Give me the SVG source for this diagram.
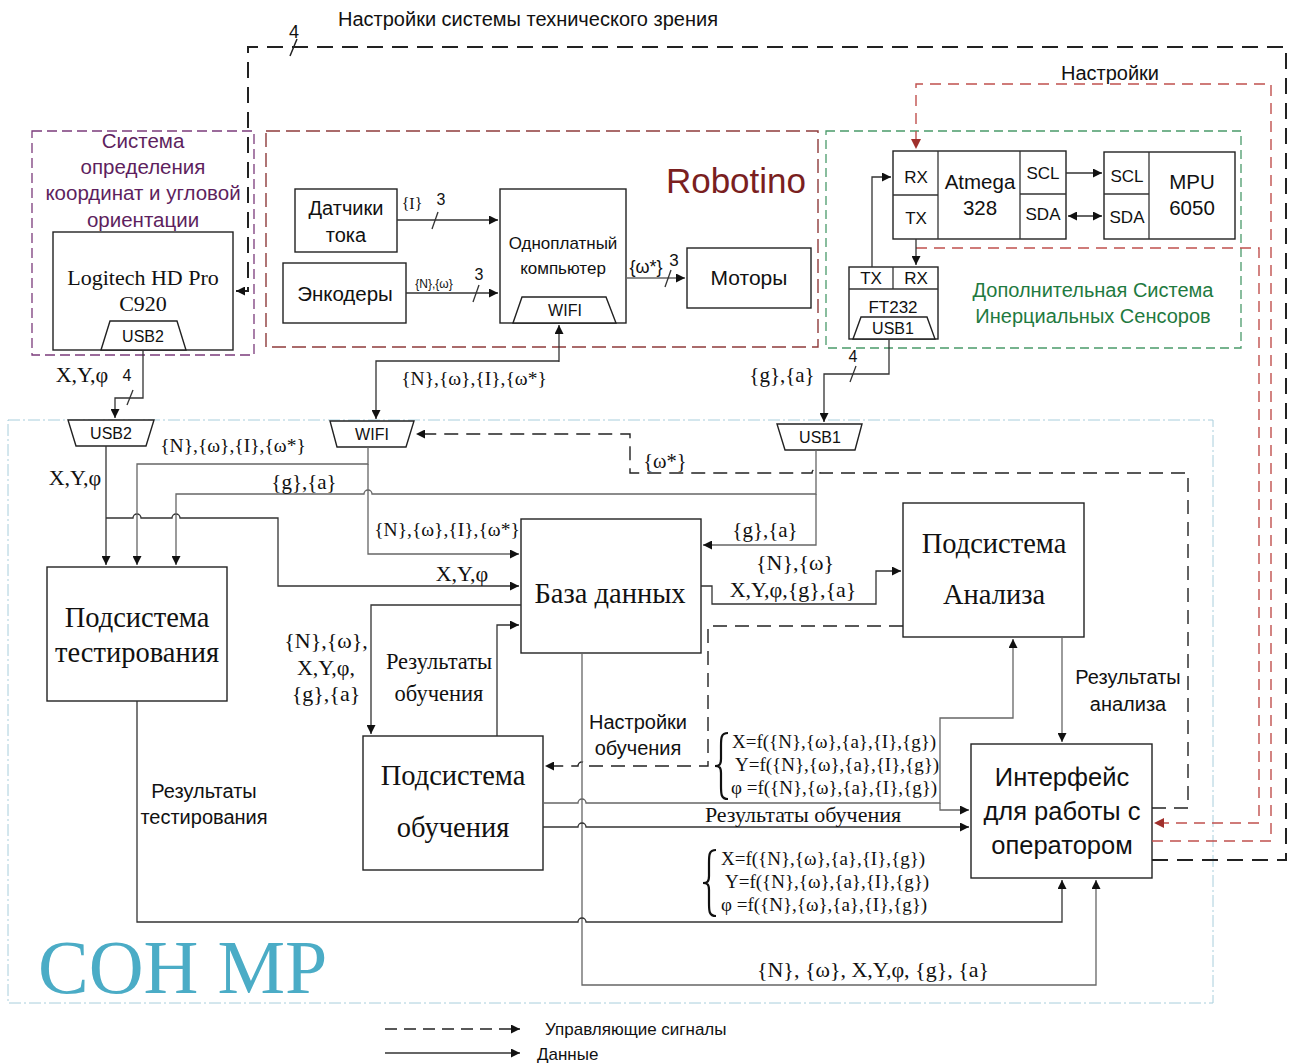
<svg xmlns="http://www.w3.org/2000/svg" width="1296" height="1063" viewBox="0 0 1296 1063">
<style>
.s{font-family:"Liberation Sans",Arial,sans-serif;fill:#111}
.r{font-family:"Liberation Serif","Times New Roman",serif;fill:#111}
.c{text-anchor:middle}
.box{fill:#fff;stroke:#222;stroke-width:1.4}
.ln{fill:none;stroke:#333;stroke-width:1.3}
.lg{fill:none;stroke:#666;stroke-width:1.3}
.dk{fill:none;stroke:#222;stroke-width:1.4;stroke-dasharray:14 8}
.dkb{fill:none;stroke:#222;stroke-width:2;stroke-dasharray:16 9}
.dr{fill:none;stroke:#C0504D;stroke-width:1.4;stroke-dasharray:11 7}
.br{fill:none;stroke:#111;stroke-width:2.2}
</style>
<defs>
<marker id="ah" viewBox="0 0 10 10" refX="10" refY="5" markerWidth="10" markerHeight="9" markerUnits="userSpaceOnUse" orient="auto"><path d="M0,0 L10,5 L0,10 z" fill="#111"/></marker>
<marker id="ah2" viewBox="0 0 10 10" refX="10" refY="5" markerWidth="10" markerHeight="9" markerUnits="userSpaceOnUse" orient="auto-start-reverse"><path d="M0,0 L10,5 L0,10 z" fill="#111"/></marker>
<marker id="ahr" viewBox="0 0 10 10" refX="10" refY="5" markerWidth="11" markerHeight="10" markerUnits="userSpaceOnUse" orient="auto"><path d="M0,0 L10,5 L0,10 z" fill="#A0302C"/></marker>
</defs>

<g id="containers">
<rect id="vision-system" x="32" y="131" width="222" height="224" fill="none" stroke="#7B3B7B" stroke-width="1.3" stroke-dasharray="10 5"/>
<text class="s c" style="fill:#5E1F5E" font-size="20.5"><tspan x="143" y="148">Система</tspan><tspan x="143" y="174">определения</tspan><tspan x="143" y="200">координат и угловой</tspan><tspan x="143" y="227">ориентации</tspan></text>
<rect id="robotino" x="266" y="131" width="552" height="216" fill="none" stroke="#8E3B3B" stroke-width="1.4" stroke-dasharray="14 6"/>
<text class="s" x="806" y="193" text-anchor="end" font-size="35" style="fill:#7A1F1F">Robotino</text>
<rect id="inertial-system" x="826" y="131" width="415" height="217" fill="none" stroke="#4A9A6A" stroke-width="1.3" stroke-dasharray="9 5"/>
<text class="s c" style="fill:#1F7A3F" font-size="20"><tspan x="1093" y="297">Дополнительная Система</tspan><tspan x="1093" y="323">Инерциальных Сенсоров</tspan></text>
<rect id="son-mr" x="8" y="420" width="1205" height="583" fill="none" stroke="#A8CEDC" stroke-width="1" stroke-dasharray="12 3 2 3"/>
<text class="r" x="38" y="993" font-size="76" style="fill:#4BACC6">СОН МР</text>
</g>

<g id="node-logitech">
<rect class="box" x="53" y="232" width="180" height="118"/>
<text class="r c" font-size="22"><tspan x="143" y="285">Logitech HD Pro</tspan><tspan x="143" y="311">C920</tspan></text>
<polygon class="box" points="101,350 110,321 177,321 186,350"/>
<text class="s c" x="143" y="342" font-size="16">USB2</text>
</g>

<g id="node-current-sensors">
<rect class="box" x="295" y="189" width="102" height="63"/>
<text class="s c" font-size="20"><tspan x="346" y="215">Датчики</tspan><tspan x="346" y="242">тока</tspan></text>
</g>
<g id="node-encoders">
<rect class="box" x="283" y="263" width="123" height="60"/>
<text class="s c" x="345" y="301" font-size="20.5">Энкодеры</text>
</g>
<g id="node-sbc">
<rect class="box" x="500" y="189" width="126" height="134"/>
<text class="s c" font-size="17"><tspan x="563" y="249">Одноплатный</tspan><tspan x="563" y="274">компьютер</tspan></text>
<polygon class="box" points="513,323 522,297 606,297 616,323"/>
<text class="s c" x="565" y="316" font-size="16">WIFI</text>
</g>
<g id="node-motors">
<rect class="box" x="687" y="248" width="124" height="60"/>
<text class="s c" x="749" y="285" font-size="21">Моторы</text>
</g>

<g id="node-atmega">
<rect class="box" x="893" y="151" width="173" height="88"/>
<line class="ln" x1="938" y1="151" x2="938" y2="239"/>
<line class="ln" x1="1020" y1="151" x2="1020" y2="239"/>
<line class="ln" x1="893" y1="195" x2="938" y2="195"/>
<line class="ln" x1="1020" y1="194" x2="1066" y2="194"/>
<text class="s c" font-size="17"><tspan x="916" y="183">RX</tspan><tspan x="916" y="224">TX</tspan><tspan x="1043" y="179">SCL</tspan><tspan x="1043" y="220">SDA</tspan></text>
<text class="s c" font-size="20.5"><tspan x="980" y="189">Atmega</tspan><tspan x="980" y="215">328</tspan></text>
</g>
<g id="node-mpu">
<rect class="box" x="1104" y="152" width="131" height="87"/>
<line class="ln" x1="1149" y1="152" x2="1149" y2="239"/>
<line class="ln" x1="1104" y1="194" x2="1149" y2="194"/>
<text class="s c" font-size="17"><tspan x="1127" y="182">SCL</tspan><tspan x="1127" y="223">SDA</tspan></text>
<text class="s c" font-size="20.5"><tspan x="1192" y="189">MPU</tspan><tspan x="1192" y="215">6050</tspan></text>
</g>
<g id="node-ft232">
<rect class="box" x="849" y="267" width="89" height="72"/>
<line class="ln" x1="849" y1="289" x2="938" y2="289"/>
<line class="ln" x1="893" y1="267" x2="893" y2="289"/>
<text class="s c" font-size="17"><tspan x="871" y="284">TX</tspan><tspan x="916" y="284">RX</tspan></text>
<text class="s c" x="893" y="313" font-size="17">FT232</text>
<polygon class="box" points="853,339 861,317 927,317 935,339"/>
<text class="s c" x="893" y="334" font-size="16">USB1</text>
</g>

<g id="node-usb2">
<polygon class="box" points="68,420 154,420 146,446 76,446"/>
<text class="s c" x="111" y="439" font-size="16">USB2</text>
</g>
<g id="node-wifi">
<polygon class="box" points="330,421 414,421 406,447 337,447"/>
<text class="s c" x="372" y="440" font-size="16">WIFI</text>
</g>
<g id="node-usb1">
<polygon class="box" points="777,424 862,424 855,450 785,450"/>
<text class="s c" x="820" y="443" font-size="16">USB1</text>
</g>

<g id="node-testing">
<rect class="box" x="47" y="567" width="180" height="134"/>
<text class="r c" font-size="28.5"><tspan x="137" y="627">Подсистема</tspan><tspan x="137" y="662">тестирования</tspan></text>
</g>
<g id="node-database">
<rect class="box" x="521" y="519" width="180" height="134"/>
<text class="r c" x="610" y="603" font-size="28.5">База данных</text>
</g>
<g id="node-analysis">
<rect class="box" x="903" y="503" width="181" height="134"/>
<text class="r c" font-size="28.5"><tspan x="994" y="553">Подсистема</tspan><tspan x="994" y="604">Анализа</tspan></text>
</g>
<g id="node-learning">
<rect class="box" x="363" y="736" width="180" height="134"/>
<text class="r c" font-size="28.5"><tspan x="453" y="785">Подсистема</tspan><tspan x="453" y="837">обучения</tspan></text>
</g>
<g id="node-interface">
<rect class="box" x="971" y="744" width="181" height="134"/>
<text class="s c" font-size="25.5"><tspan x="1062" y="786">Интерфейс</tspan><tspan x="1062" y="820">для работы с</tspan><tspan x="1062" y="854">оператором</tspan></text>
</g>

<g id="connectors">
<path class="dkb" d="M1152,860 H1286 V47 H248 V291 H236" marker-end="url(#ah)"/>
<line x1="290" y1="56" x2="297" y2="39" stroke="#222" stroke-width="1.5"/>
<path class="dr" d="M1152,841 H1271 V84 H916 V149" marker-end="url(#ahr)"/>
<path class="dr" d="M916,248 H1259 V823 H1154" marker-end="url(#ahr)"/>
<path class="ln" d="M397,220 H498" marker-end="url(#ah)"/>
<line class="ln" x1="432" y1="229" x2="438" y2="212"/>
<path class="ln" d="M406,293 H498" marker-end="url(#ah)"/>
<line class="ln" x1="473" y1="302" x2="479" y2="285"/>
<path class="lg" d="M626,278 H685" marker-end="url(#ah)"/>
<line class="ln" x1="665" y1="287" x2="671" y2="270"/>
<path class="ln" d="M1066,173 H1102" marker-end="url(#ah)"/>
<path class="ln" d="M1068,216 H1102" marker-start="url(#ah2)" marker-end="url(#ah2)"/>
<path class="ln" d="M872,267 V177 H891" marker-end="url(#ah)"/>
<path class="ln" d="M916,239 V265" marker-end="url(#ah)"/>
<path class="ln" d="M143,350 V398 H115 V418" marker-end="url(#ah)"/>
<line class="ln" x1="127" y1="405" x2="133" y2="390"/>
<path class="ln" d="M559,362 V325" marker-end="url(#ah)"/>
<path class="ln" d="M559,361 H376 V419" marker-end="url(#ah)"/>
<path class="ln" d="M889,339 V374 H824 V422" marker-end="url(#ah)"/>
<line class="ln" x1="850" y1="382" x2="856" y2="366"/>
<path class="dk" d="M1152,808 H1188 V473 H820 A4,4 0 0 0 812,473 H630 V434 H416" marker-end="url(#ah)"/>
<path class="ln" d="M106,446 V565" marker-end="url(#ah)"/>
<path class="ln" d="M106,518 H133 A4,4 0 0 1 141,518 H172 A4,4 0 0 1 180,518 H278 V586 H519" marker-end="url(#ah)"/>
<path class="lg" d="M368,447 V464 H137 V565" marker-end="url(#ah)"/>
<path class="lg" d="M368,464 V554 H519" marker-end="url(#ah)"/>
<path class="lg" d="M816,450 V494 H372 A4,4 0 0 0 364,494 H176 V565" marker-end="url(#ah)"/>
<path class="lg" d="M816,494 V545 H703" marker-end="url(#ah)"/>
<path class="ln" d="M701,586 H712 V604 H876 V571 H901" marker-end="url(#ah)"/>
<path class="dk" d="M903,626 H708 V766 H586 A4,4 0 0 0 578,766 H545" marker-end="url(#ah)"/>
<path class="ln" d="M521,605 H371 V734" marker-end="url(#ah)"/>
<path class="ln" d="M497,736 V625 H519" marker-end="url(#ah)"/>
<path class="lg" d="M582,653 V985 H1096 V880" marker-end="url(#ah)"/>
<path class="lg" d="M543,803 H578 A4,4 0 0 1 586,803 H940 V718 H1013 V639" marker-end="url(#ah)"/>
<path class="lg" d="M940,803 V810 H969" marker-end="url(#ah)"/>
<path class="ln" d="M543,827 H578 A4,4 0 0 1 586,827 H969" marker-end="url(#ah)"/>
<path class="lg" d="M1062,637 V742" marker-end="url(#ah)"/>
<path class="ln" d="M137,701 V922 H578 A4,4 0 0 1 586,922 H1062 V880" marker-end="url(#ah)"/>
<path class="dk" d="M385,1029 H520" marker-end="url(#ah)" style="stroke-dasharray:12 7"/>
<path class="ln" d="M385,1053 H520" marker-end="url(#ah)"/>
</g>

<g id="labels">
<text class="s" x="338" y="26" font-size="20">Настройки системы технического зрения</text>
<text class="s c" x="294" y="38" font-size="18">4</text>
<text class="s c" x="1110" y="80" font-size="20">Настройки</text>
<text class="r" x="412" y="209" font-size="16" text-anchor="middle">{I}</text>
<text class="s" x="441" y="205" font-size="16" text-anchor="middle">3</text>
<text class="s" x="434" y="288" font-size="12" text-anchor="middle">{N},{ω}</text>
<text class="s" x="479" y="280" font-size="16" text-anchor="middle">3</text>
<text class="s" x="646" y="273" font-size="18" text-anchor="middle">{ω*}</text>
<text class="s" x="674" y="266" font-size="17" text-anchor="middle">3</text>
<text class="r c" x="82" y="382" font-size="22">X,Y,φ</text>
<text class="s c" x="127" y="381" font-size="16">4</text>
<text class="r c" x="474" y="385" font-size="19.5">{N},{ω},{I},{ω*}</text>
<text class="r c" x="782" y="382" font-size="21">{g},{a}</text>
<text class="s c" x="853" y="362" font-size="16">4</text>
<text class="r c" x="233" y="452" font-size="19.5">{N},{ω},{I},{ω*}</text>
<text class="r c" x="75" y="485" font-size="22">X,Y,φ</text>
<text class="r c" x="304" y="489" font-size="21">{g},{a}</text>
<text class="r c" x="665" y="468" font-size="20.5">{ω*}</text>
<text class="r c" x="447" y="536" font-size="19.5">{N},{ω},{I},{ω*}</text>
<text class="r c" x="462" y="581" font-size="22">X,Y,φ</text>
<text class="r c" x="765" y="537" font-size="21">{g},{a}</text>
<text class="r c" font-size="22"><tspan x="795" y="570">{N},{ω}</tspan><tspan x="793" y="597">X,Y,φ,{g},{a}</tspan></text>
<text class="r c" font-size="22"><tspan x="326" y="648">{N},{ω},</tspan><tspan x="326" y="675">X,Y,φ,</tspan><tspan x="326" y="701">{g},{a}</tspan></text>
<text class="r c" font-size="22.5"><tspan x="439" y="669">Результаты</tspan><tspan x="439" y="701">обучения</tspan></text>
<text class="s c" font-size="20"><tspan x="1128" y="684">Результаты</tspan><tspan x="1128" y="711">анализа</tspan></text>
<text class="s c" font-size="20"><tspan x="638" y="729">Настройки</tspan><tspan x="638" y="755">обучения</tspan></text>
<text class="s c" font-size="20"><tspan x="204" y="798">Результаты</tspan><tspan x="204" y="824">тестирования</tspan></text>
<path class="br" d="M728,733 C721,733 721,738 721,746 L721,759 C721,765 719,766 715,766 C719,766 721,767 721,773 L721,786 C721,794 721,799 728,799"/>
<text class="r" font-size="19"><tspan x="732" y="748">X=f({N},{ω},{a},{I},{g})</tspan><tspan x="735" y="771">Y=f({N},{ω},{a},{I},{g})</tspan><tspan x="731" y="794">φ =f({N},{ω},{a},{I},{g})</tspan></text>
<text class="r c" x="803" y="822" font-size="22">Результаты обучения</text>
<path class="br" d="M716,850 C709,850 709,855 709,863 L709,876 C709,882 707,883 703,883 C707,883 709,884 709,890 L709,903 C709,911 709,916 716,916"/>
<text class="r" font-size="19"><tspan x="721" y="865">X=f({N},{ω},{a},{I},{g})</tspan><tspan x="725" y="888">Y=f({N},{ω},{a},{I},{g})</tspan><tspan x="721" y="911">φ =f({N},{ω},{a},{I},{g})</tspan></text>
<text class="r c" x="873" y="977" font-size="22">{N}, {ω}, X,Y,φ, {g}, {a}</text>
<text class="s" x="545" y="1035" font-size="17">Управляющие сигналы</text>
<text class="s" x="537" y="1060" font-size="17">Данные</text>
</g>
</svg>
